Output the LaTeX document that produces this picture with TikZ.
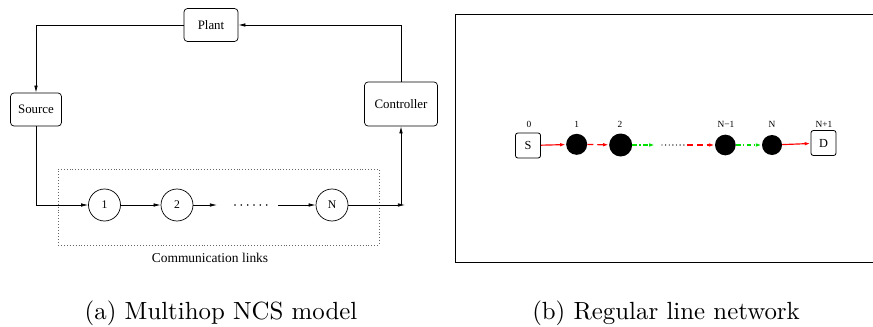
\documentclass[tikz,border=0pt]{standalone}
\usepackage{fontspec}
\usepackage{graphicx}
\usepackage{xcolor}
\usetikzlibrary{arrows.meta}
\newfontfamily\figfont{Liberation Serif}
\definecolor{LinkRed}{HTML}{FF0000}
\definecolor{LinkGreen}{HTML}{00E000}

\begin{document}
\begin{tikzpicture}[x=1cm,y=1cm,
  blk/.style={draw,rounded corners=3pt,line width=0.6pt,inner sep=0pt,font=\figfont\fontsize{11}{13}\selectfont},
  hop/.style={draw,circle,line width=0.6pt,minimum size=0.96cm,inner sep=0pt,font=\figfont\fontsize{10}{12}\selectfont},
  relay/.style={circle,fill=black,inner sep=0pt},
  term/.style={draw,rounded corners=2pt,line width=0.7pt,minimum size=0.75cm,inner sep=0pt,font=\figfont\fontsize{10.5}{12}\selectfont},
  idx/.style={font=\figfont\fontsize{8}{9}\selectfont},
  wire/.style={line width=0.6pt,-{Latex[length=6pt,width=3pt]}},
  hopline/.style={line width=1pt,-{Latex[length=5pt,width=3pt]}},
  redash/.style={dash pattern=on 5pt off 3.4pt},
  greendash/.style={dash pattern=on 4pt off 2pt on 1.2pt off 2pt},
]
\path[use as bounding box] (0,0) rectangle (26.19,9.78);

% (a) loop through the links
\node[blk,minimum width=1.62cm,minimum height=0.99cm] (plant) at (6.33,9.03) {Plant};
\node[blk,minimum width=1.53cm,minimum height=0.99cm] (source) at (1.08,6.495) {Source};
\node[blk,minimum width=2.19cm,minimum height=1.32cm] (ctrl) at (12.03,6.66) {Controller};
\node[hop] (h1) at (3.135,3.63) {1};
\node[hop] (h2) at (5.31,3.63) {2};
\node[hop] (hN) at (9.96,3.63) {N};
\coordinate (tipA) at (6.51,3.63);
\coordinate (gapL) at (7.05,3.63);
\coordinate (gapR) at (8.01,3.63);
\coordinate (tailB) at (8.34,3.63);
\coordinate (out) at (12.15,3.63);
\coordinate (turn) at (12.03,3.63);
\node[draw=black!60,dotted,line width=0.5pt,minimum width=9.63cm,minimum height=2.28cm] (linkbox) at (6.555,3.57) {};
\node[font=\figfont\fontsize{11.5}{13}\selectfont] (linklbl) at (6.3,2.04) {Communication links};

\draw[wire] (ctrl.north) |- (plant.east);
\draw[wire] (plant.west) -| (source.north);
\draw[wire] (source.south) |- (h1.west);
\draw[wire] (h1) -- (h2);
\draw[wire] (h2) -- (tipA);
\draw[line width=1.5pt,line cap=round,dash pattern=on 0pt off 5.4pt] (gapL) -- (gapR);
\draw[wire] (tailB) -- (hN);
\draw[wire] (hN) -- (out);
\draw[wire] (turn) -- (ctrl.south);

% (b) line network
\draw[line width=0.8pt] (26.19,9.35) -| (13.65,1.9) -- (26.19,1.9);
\node[term] (src) at (15.84,5.415) {S};
\node[relay,minimum size=0.63cm] (r1) at (17.30,5.45) {};
\node[relay,minimum size=0.69cm] (r2) at (18.62,5.43) {};
\node[relay,minimum size=0.62cm] (rm) at (21.76,5.43) {};
\node[relay,minimum size=0.60cm] (rn) at (23.16,5.43) {};
\node[term] (dst) at (24.705,5.49) {D};
\node[idx] (l0) at (15.87,6.06) {0};
\node[idx] (l1) at (17.30,6.06) {1};
\node[idx] (l2) at (18.60,6.06) {2};
\node[idx] (lm) at (21.78,6.06) {N−1};
\node[idx] (ln) at (23.16,6.06) {N};
\node[idx] (ld) at (24.72,6.06) {N+1};
\coordinate (gA) at (19.65,5.43);
\coordinate (gB) at (19.86,5.43);
\coordinate (gC) at (20.61,5.43);

\draw[hopline,LinkRed] (src) -- (r1);
\draw[hopline,LinkRed,redash] (r1) -- (r2);
\draw[hopline,LinkGreen,greendash] (r2) -- (gA);
\draw[line width=1.2pt,line cap=round,dash pattern=on 0pt off 3.1pt] (gB) -- (gC);
\draw[hopline,LinkRed,redash] (gC) -- (rm);
\draw[hopline,LinkGreen,greendash] (rm) -- (rn);
\draw[hopline,LinkRed] (rn) -- (dst);

% captions
\node (capa) at (6.63,0.39) {\scalebox{2.12}{\fontsize{10}{12}\selectfont (a) Multihop NCS model}};
\node (capb) at (19.98,0.39) {\scalebox{2.12}{\fontsize{10}{12}\selectfont (b) Regular line network}};
\end{tikzpicture}
\end{document}
